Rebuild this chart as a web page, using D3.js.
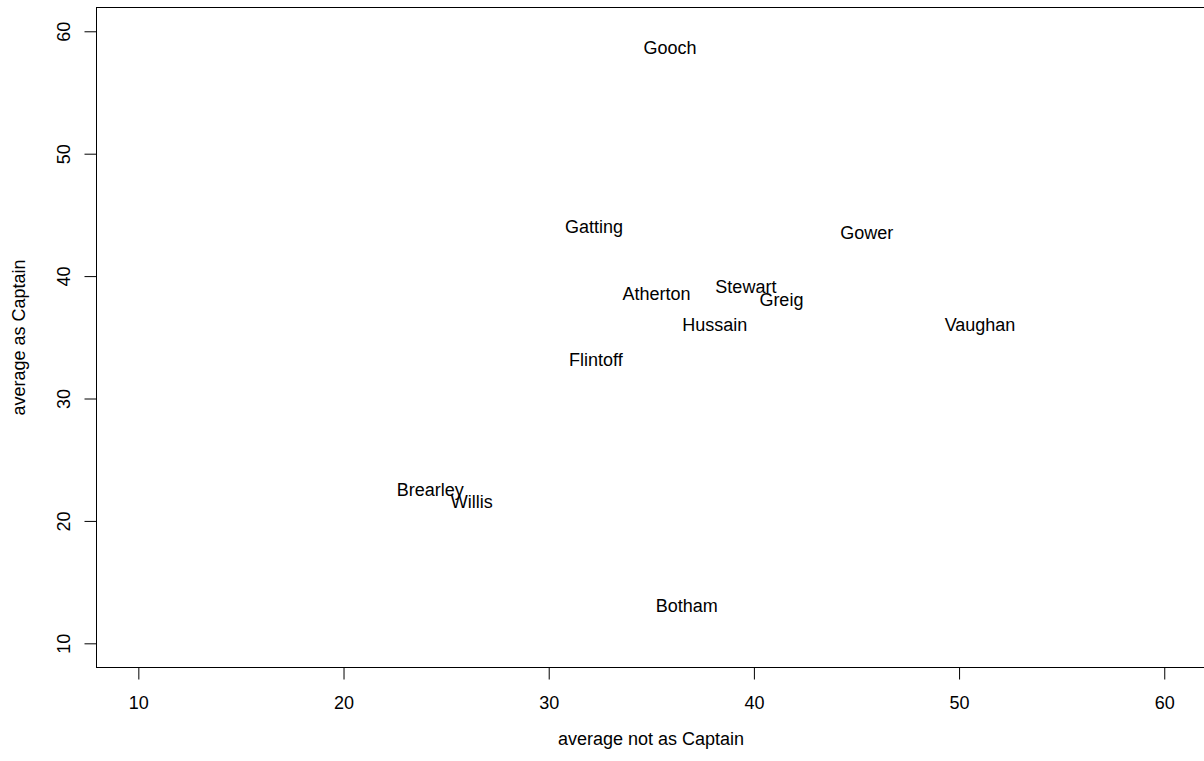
<!DOCTYPE html>
<html>
<head>
<meta charset="utf-8">
<script src="https://cdn.jsdelivr.net/npm/d3@7"></script>
<style>
  html, body { margin: 0; padding: 0; background: #fff; overflow: hidden; }
  svg { display: block; font-family: "Liberation Sans", Arial, Helvetica, sans-serif; }
</style>
</head>
<body>
<svg id="chart" width="1204" height="761"></svg>
<script>
// England captains: batting average when not captain vs. as captain
const players = ["Gooch", "Gatting", "Gower", "Atherton", "Stewart", "Greig",
                 "Hussain", "Vaughan", "Flintoff", "Brearley", "Willis", "Botham"];
const avgNotCaptain = [35.91, 32.21, 45.50, 35.25, 39.61, 41.34,
                       38.09, 51.02, 32.30, 24.23, 26.25, 36.73];
const avgAsCaptain  = [58.69, 44.06, 43.52, 38.61, 39.16, 38.06,
                       36.02, 36.08, 33.16, 22.53, 21.55, 13.05];
const xTicks = [10, 20, 30, 40, 50, 60];
const yTicks = [10, 20, 30, 40, 50, 60];

const svg = d3.select("#chart");

const x = d3.scaleLinear().domain([8, 62]).range([97.3, 1205.3]);
const y = d3.scaleLinear().domain([8, 62]).range([667.8, 6.8]);

// plot frame
svg.append("rect")
  .attr("x", 96.5).attr("y", 7.5)
  .attr("width", 1205 - 96.5).attr("height", 667.5 - 7.5)
  .attr("fill", "none").attr("stroke", "#000").attr("stroke-width", 1);

// x axis
const xAxis = svg.append("g")
  .attr("transform", "translate(0,667.5)")
  .call(d3.axisBottom(x).tickValues(xTicks).tickSize(12).tickFormat(d3.format("d")));
xAxis.select(".domain").remove();
xAxis.selectAll(".tick line").attr("stroke", "#000");
xAxis.selectAll(".tick text")
  .attr("y", 0).attr("dy", 0)
  .attr("transform", "translate(0,41)")
  .attr("font-size", 18).attr("fill", "#000")
  .attr("font-family", "Liberation Sans, Arial, sans-serif");

// y axis with labels rotated parallel to the axis
const yAxis = svg.append("g")
  .attr("transform", "translate(96.5,0)")
  .call(d3.axisLeft(y).tickValues(yTicks).tickSize(12).tickFormat(d3.format("d")));
yAxis.select(".domain").remove();
yAxis.selectAll(".tick line").attr("stroke", "#000");
yAxis.selectAll(".tick text")
  .attr("x", 0).attr("y", 0).attr("dy", 0)
  .attr("text-anchor", "middle")
  .attr("transform", "translate(-27,0) rotate(-90)")
  .attr("font-size", 18).attr("fill", "#000")
  .attr("font-family", "Liberation Sans, Arial, sans-serif");

// axis titles
svg.append("text")
  .attr("x", 651).attr("y", 745)
  .attr("text-anchor", "middle").attr("font-size", 18).attr("fill", "#000")
  .text("average not as Captain");

svg.append("text")
  .attr("transform", "translate(24.5,337.5) rotate(-90)")
  .attr("text-anchor", "middle").attr("font-size", 18).attr("fill", "#000")
  .text("average as Captain");

// player names placed at their points
svg.append("g").selectAll("text")
  .data(players)
  .join("text")
  .attr("x", (d, i) => x(avgNotCaptain[i]))
  .attr("y", (d, i) => y(avgAsCaptain[i]))
  .attr("dy", "0.36em")
  .attr("text-anchor", "middle")
  .attr("font-size", 18).attr("fill", "#000")
  .text(d => d);
</script>
</body>
</html>
